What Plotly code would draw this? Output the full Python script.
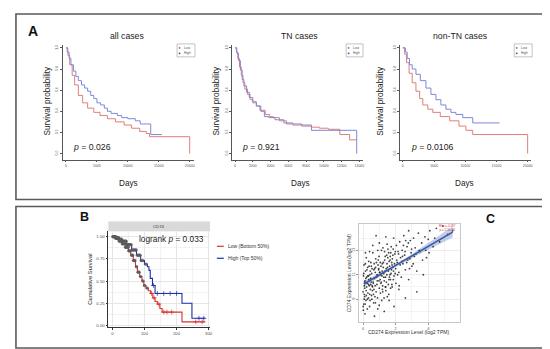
import numpy as np
import plotly.graph_objects as go

W, H = 550, 349
FONT = "Liberation Sans, Arial, sans-serif"

# ---------------- Panel A data (Kaplan-Meier, days) ----------------
all_low_t = [0, 300, 600, 1000, 1400, 2000, 2700, 3500, 4500, 5500, 6700, 8000, 9400, 10600, 11900, 13000, 13500, 20000]
all_low_s = [1.0, 0.93, 0.84, 0.74, 0.65, 0.55, 0.48, 0.43, 0.39, 0.36, 0.33, 0.30, 0.27, 0.24, 0.21, 0.19, 0.16, 0.0]
all_high_t = [0, 200, 500, 800, 1200, 1600, 2000, 2500, 3000, 3500, 4000, 4500, 5000, 5600, 6200, 6700, 7300, 8300, 9000, 10000, 11200, 12000, 13700, 15500]
all_high_s = [1.0, 0.96, 0.90, 0.84, 0.78, 0.73, 0.69, 0.65, 0.62, 0.59, 0.55, 0.52, 0.48, 0.46, 0.43, 0.40, 0.38, 0.36, 0.34, 0.33, 0.31, 0.28, 0.18, 0.18]

tn_low_t = [0, 150, 300, 500, 700, 900, 1100, 1400, 1700, 2000, 2400, 2800, 3400, 3900, 4300, 5000, 5800, 6500, 7500, 8600, 9500, 10500, 11800, 12900, 13700]
tn_low_s = [1.0, 0.96, 0.90, 0.82, 0.74, 0.67, 0.61, 0.56, 0.51, 0.48, 0.45, 0.41, 0.37, 0.35, 0.34, 0.31, 0.28, 0.27, 0.26, 0.25, 0.24, 0.23, 0.18, 0.13, 0.13]
tn_high_t = [0, 200, 400, 600, 800, 1000, 1300, 1600, 2000, 2400, 2900, 3300, 3800, 4500, 5500, 6500, 7500, 8600, 13700]
tn_high_s = [1.0, 0.95, 0.88, 0.79, 0.70, 0.64, 0.58, 0.53, 0.49, 0.45, 0.40, 0.35, 0.34, 0.32, 0.29, 0.28, 0.27, 0.22, 0.0]

ntn_low_t = [0, 300, 600, 1000, 1500, 2100, 2700, 3200, 4000, 4800, 6000, 7500, 9000, 10100, 11200, 20000]
ntn_low_s = [1.0, 0.94, 0.86, 0.76, 0.67, 0.59, 0.52, 0.46, 0.42, 0.39, 0.35, 0.31, 0.26, 0.22, 0.18, 0.0]
ntn_high_t = [0, 400, 700, 1070, 1500, 2100, 2800, 3700, 4500, 5300, 6100, 6900, 7700, 8500, 9600, 11200, 15500]
ntn_high_s = [1.0, 0.96, 0.90, 0.84, 0.80, 0.75, 0.69, 0.62, 0.56, 0.51, 0.46, 0.42, 0.39, 0.37, 0.34, 0.29, 0.29]

a_titles = ["all cases", "TN cases", "non-TN cases"]
a_pvalues = ["0.026", "0.921", "0.0106"]
a_xticks = [[0, 5000, 10000, 15000, 20000], [0, 2000, 4000, 6000, 8000, 10000, 12000, 14000], [0, 5000, 10000, 15000, 20000]]
a_yticks = [0.0, 0.2, 0.4, 0.6, 0.8, 1.0]

# ---------------- Panel B data (months) ----------------
b_low_t = [0, 10, 20, 30, 40, 50, 57, 65, 72, 78, 85, 92, 98, 105, 112, 119, 126, 133, 140, 148, 155, 217, 290]
b_low_s = [1.0, 0.98, 0.95, 0.92, 0.88, 0.84, 0.79, 0.73, 0.66, 0.60, 0.55, 0.50, 0.45, 0.42, 0.39, 0.36, 0.31, 0.27, 0.24, 0.19, 0.15, 0.04, 0.04]
b_high_t = [0, 10, 20, 30, 45, 60, 75, 88, 100, 109, 114, 118, 125, 133, 217, 248, 290]
b_high_s = [1.0, 0.99, 0.97, 0.95, 0.91, 0.85, 0.79, 0.73, 0.69, 0.66, 0.62, 0.53, 0.45, 0.36, 0.25, 0.08, 0.08]
b_low_censor = [2, 4, 6, 9, 11, 13, 16, 19, 21, 23, 26, 29, 31, 33, 36, 39, 41, 43, 46, 49, 51, 53, 56, 60, 63, 66, 68, 70, 75, 80, 83, 88, 95, 100, 108,
                122, 130, 145, 160, 170, 185, 260, 280]
b_high_censor = [2, 5, 8, 10, 12, 15, 18, 20, 22, 25, 28, 30, 32, 35, 38, 40, 42, 45, 48, 50, 52, 55, 58, 62, 66, 70, 74, 78, 82, 86, 90, 95, 104,
                 128, 140, 160, 180, 200, 270, 285]
b_xticks = [0, 100, 200, 300]
b_yticks = [0.0, 0.25, 0.5, 0.75, 1.0]

# ---------------- Panel C data (log2 TPM) ----------------
cd274_expr = [
    0.02, 0.05, 0.10, 0.00, 0.08, 0.12, 0.03, 0.15, 0.06, 0.20, 0.10, 0.25, 0.18, 0.30, 0.22, 0.28, 0.35, 0.12, 0.40, 0.33,
    0.45, 0.50, 0.42, 0.55, 0.48, 0.60, 0.52, 0.65, 0.58, 0.70, 0.75, 0.68, 0.80, 0.85, 0.78, 0.90, 0.95, 0.88, 1.00, 1.05,
    0.98, 1.10, 1.15, 1.20, 1.08, 1.25, 1.30, 1.22, 1.35, 1.40, 1.45, 1.38, 1.50, 1.55, 1.48, 1.60, 1.65, 1.58, 1.70, 1.75,
    1.68, 1.80, 1.85, 1.78, 1.90, 1.95, 1.88, 2.00, 2.05, 2.10, 2.02, 2.15, 2.20, 2.25, 2.30, 2.35, 2.40, 2.45, 2.50, 2.55,
    2.60, 2.70, 2.75, 2.80, 2.90, 2.95, 3.00, 3.10, 3.15, 3.20, 3.30, 3.40, 3.50, 3.60, 3.70, 3.80, 3.90, 4.00, 4.10, 4.30,
    4.50, 4.70, 4.90, 5.20, 5.50, 3.30, 2.60, 1.90, 1.30, 0.70, 0.90, 1.60, 2.20, 0.40, 0.15, 0.60, 1.00, 1.40, 0.80, 2.80,
    0.22, 0.35, 0.47, 0.53, 0.62, 0.71, 0.83, 0.92, 1.03, 1.12, 1.18, 1.27, 1.33, 1.42, 1.52, 1.63, 1.72, 1.83, 1.93, 2.07,
    0.08, 0.17, 0.27, 0.38, 0.44, 0.57, 0.66, 0.74, 0.86, 0.97, 1.06, 1.16, 1.24, 1.36, 1.46, 1.57, 1.66, 1.77, 1.87, 1.98,
    0.04, 0.14, 0.24, 0.32, 0.41, 0.51, 0.63, 0.73, 0.82, 0.93, 1.01, 1.13, 1.21, 1.32, 1.43, 1.53, 1.62, 1.73, 1.82, 2.12,
    2.18, 2.28, 2.38, 2.48, 2.58, 2.68, 2.78, 2.88, 2.98, 3.08, 3.25, 3.45, 3.65, 3.85, 4.05, 4.40, 2.22, 2.42, 2.62, 2.85,
    0.10, 0.20, 0.30, 0.37, 0.46, 0.56, 0.67, 0.77, 0.87, 0.96, 1.07, 1.17, 1.28, 1.37, 1.47, 1.56, 1.67, 1.76, 1.86, 1.97,
    0.01, 0.07, 0.13, 0.19, 0.26, 0.34, 0.43, 0.54, 0.64, 0.76, 0.89, 0.99, 1.09, 1.19, 1.29, 1.39, 1.49, 1.59, 1.69, 1.79,
]
cd74_expr = [
    8.1, 8.6, 9.2, 9.6, 10.1, 10.5, 10.9, 11.3, 11.8, 12.4, 9.9, 10.3, 8.9, 9.5, 10.8, 11.6, 12.1, 7.8, 8.4, 9.1,
    9.8, 10.4, 11.0, 11.5, 12.0, 12.8, 9.3, 8.7, 10.0, 10.7, 11.2, 11.9, 9.6, 10.2, 12.3, 13.0, 11.4, 10.9, 9.9, 10.6,
    12.5, 11.7, 8.9, 10.1, 11.0, 12.0, 10.5, 13.2, 11.3, 9.7, 12.6, 10.8, 11.6, 10.2, 13.5, 12.1, 11.0, 9.4, 12.8, 11.4,
    10.6, 12.3, 13.1, 11.8, 10.9, 12.7, 14.0, 11.5, 13.4, 12.0, 10.3, 12.9, 11.2, 13.7, 12.4, 10.8, 13.0, 11.9, 14.2, 12.6,
    11.4, 13.3, 12.2, 10.6, 13.8, 12.8, 11.7, 14.0, 12.5, 13.2, 11.3, 14.4, 12.9, 13.6, 11.0, 14.1, 12.4, 13.9, 14.6, 13.3,
    14.8, 13.7, 15.0, 14.3, 14.6, 9.6, 9.1, 8.4, 8.0, 7.6, 8.2, 8.9, 9.8, 12.9, 12.8, 13.4, 13.6, 14.1, 14.2, 14.6,
    10.0, 10.6, 10.2, 11.1, 10.4, 11.5, 10.8, 11.8, 11.2, 10.4, 11.9, 11.1, 12.2, 11.5, 12.4, 11.7, 11.1, 12.6, 11.9, 12.2,
    9.4, 10.7, 9.0, 10.1, 11.3, 9.7, 11.4, 10.1, 11.0, 10.5, 12.0, 10.9, 11.6, 12.5, 11.0, 12.8, 12.2, 10.2, 11.3, 12.9,
    11.1, 11.9, 11.4, 10.9, 9.4, 11.7, 10.3, 9.2, 12.0, 12.2, 11.2, 13.0, 9.6, 12.9, 10.4, 13.1, 10.8, 13.3, 11.6, 11.0,
    12.7, 11.8, 12.1, 13.4, 12.9, 12.0, 13.6, 12.3, 13.1, 11.9, 12.7, 13.0, 12.2, 13.0, 12.8, 14.0, 10.1, 12.5, 13.8, 11.5,
    10.4, 9.3, 10.9, 11.7, 10.7, 10.1, 9.8, 11.6, 10.5, 11.5, 9.5, 11.3, 10.8, 10.0, 11.9, 11.3, 12.5, 12.0, 10.6, 11.1,
    8.4, 9.0, 8.6, 9.7, 8.2, 10.2, 8.9, 9.0, 9.4, 8.7, 9.1, 8.5, 10.3, 9.8, 9.1, 10.0, 9.2, 10.6, 9.9, 10.0,
]
fit_intercept = 10.2
fit_slope = 0.78
fit_x = [0.05, 1.0, 2.0, 3.0, 4.0, 5.0, 5.5]
fit_halfwidth = [0.22, 0.13, 0.10, 0.16, 0.26, 0.38, 0.45]
c_xticks = [0, 2, 4]
c_yticks = [9, 11, 13]
c_stat_text = "Rho = 0.587<br>p = 2.2e-98"

# ---------------- helpers ----------------
def px(p):
    return p / W

def py(p):
    return 1 - p / H

def xdom(a, b):
    return [a / W, b / W]

def ydom(top, bottom):
    return [1 - bottom / H, 1 - top / H]

fig = go.Figure()
annotations = []
shapes = []

def ann(text, x, y, size, color="#1a1a1a", xanchor="center", yanchor="middle", angle=0, bold=False):
    if bold:
        text = "<b>" + text + "</b>"
    annotations.append(dict(text=text, x=px(x), y=py(y), xref="paper", yref="paper",
                            showarrow=False, xanchor=xanchor, yanchor=yanchor, textangle=angle,
                            font=dict(size=size, color=color, family=FONT)))

def rect(x0, y0, x1, y1, color="#666", width=1.5, fill="rgba(0,0,0,0)"):
    shapes.append(dict(type="rect", xref="paper", yref="paper", x0=px(x0), x1=px(x1), y0=py(y1), y1=py(y0),
                       line=dict(color=color, width=width), fillcolor=fill, layer="below"))

def seg(x0, y0, x1, y1, color, width=1):
    shapes.append(dict(type="line", xref="paper", yref="paper", x0=px(x0), x1=px(x1), y0=py(y0), y1=py(y1),
                       line=dict(color=color, width=width)))

def dot(x, y, color, r=0.9):
    shapes.append(dict(type="circle", xref="paper", yref="paper", x0=px(x - r), x1=px(x + r), y0=py(y + r), y1=py(y - r),
                       line=dict(width=0), fillcolor=color))

# Panel boxes
rect(8, 6, 541, 192, color="#5a5a5a", width=1.6)
rect(8, 199, 541, 341, color="#5a5a5a", width=1.6)

RED_A = "#e07f7a"
BLUE_A = "#7f88d6"

# ---------------- Panel A ----------------
a_data = [
    (all_low_t, all_low_s, all_high_t, all_high_s),
    (tn_low_t, tn_low_s, tn_high_t, tn_high_s),
    (ntn_low_t, ntn_low_s, ntn_high_t, ntn_high_s),
]
a_geom = [(55, 187, 58.3, 182.7, 20000), (225, 357, 228.3, 353.3, 14000), (394, 526, 397, 522.5, 20000)]
a_title_x = [120, 293, 455]
a_ylab_x = [40, 210, 375]
a_p_x = [63, 233, 403]
a_leg = [(170, 188), (340, 357), (509, 527)]
y_top, y_bot, y1px, y0px = 37, 152, 40, 146
yr = [-(y_bot - y0px) / (y0px - y1px), 1 + (y1px - y_top) / (y0px - y1px)]

layout_axes = {}
for i, (lt, ls, ht, hs) in enumerate(a_data):
    n = "" if i == 0 else str(i + 1)
    dl, dr, x0p, xmp, xmv = a_geom[i]
    scale = xmv / (xmp - x0p)
    xr = [-(x0p - dl) * scale, xmv + (dr - xmp) * scale]
    fig.add_trace(go.Scatter(x=lt, y=ls, mode="lines", line=dict(color=RED_A, width=1, shape="hv"),
                             xaxis="x" + n, yaxis="y" + n, showlegend=False, hoverinfo="skip"))
    fig.add_trace(go.Scatter(x=ht, y=hs, mode="lines", line=dict(color=BLUE_A, width=1, shape="hv"),
                             xaxis="x" + n, yaxis="y" + n, showlegend=False, hoverinfo="skip"))
    common = dict(showgrid=False, zeroline=False, showline=True, linecolor="#555", linewidth=0.7,
                  ticks="outside", ticklen=2, tickwidth=0.6, tickcolor="#555",
                  tickfont=dict(size=3.5, color="#555", family=FONT))
    layout_axes["xaxis" + n] = dict(domain=xdom(dl, dr), range=xr, anchor="y" + n, tickvals=a_xticks[i],
                                    ticktext=[str(v) for v in a_xticks[i]], **common)
    layout_axes["yaxis" + n] = dict(domain=ydom(y_top, y_bot), range=yr, anchor="x" + n, tickvals=a_yticks,
                                    ticktext=["%.1f" % v for v in a_yticks], tickangle=-90, **common)
    ann(a_titles[i], a_title_x[i], 28, 8.7)
    ann("Survival probability", a_ylab_x[i], 93, 8.2, angle=-90)
    ann("Days", a_title_x[i] + 1 if i != 2 else 459, 176, 8.2)
    ann("<i>p</i> = " + a_pvalues[i], a_p_x[i], 139, 8.7, xanchor="left")
    lx0, lx1 = a_leg[i]
    rect(lx0, 36, lx1, 49, color="#888", width=0.5)
    dot(lx0 + 2.5, 40, "#d9534f")
    dot(lx0 + 2.5, 45.5, "#2f3fbf")
    ann("Low", lx0 + 4.5, 40, 3.3, color="#555", xanchor="left")
    ann("High", lx0 + 4.5, 45.5, 3.3, color="#555", xanchor="left")

ann("A", 25, 23, 14, color="#111", bold=True)

# ---------------- Panel B ----------------
RED_B = "#d7322f"
BLUE_B = "#1f2fb0"

def step_eval(t, s, q):
    t = np.asarray(t, dtype=float)
    s = np.asarray(s, dtype=float)
    idx = np.searchsorted(t, np.asarray(q, dtype=float), side="right") - 1
    return s[idx]

fig.add_trace(go.Scatter(x=b_low_t, y=b_low_s, mode="lines", line=dict(color=RED_B, width=1.1, shape="hv"),
                         xaxis="x4", yaxis="y4", showlegend=False, hoverinfo="skip"))
fig.add_trace(go.Scatter(x=b_high_t, y=b_high_s, mode="lines", line=dict(color=BLUE_B, width=1.1, shape="hv"),
                         xaxis="x4", yaxis="y4", showlegend=False, hoverinfo="skip"))
for ct, t, s, col in [(b_low_censor, b_low_t, b_low_s, RED_B), (b_high_censor, b_high_t, b_high_s, BLUE_B)]:
    ct = np.asarray(ct, dtype=float)
    cs = step_eval(t, s, ct)
    early = ct <= 110
    fig.add_trace(go.Scatter(x=ct[early], y=cs[early], mode="markers",
                             marker=dict(symbol="circle", size=3.4, color="rgba(90,90,90,0.85)", line=dict(width=0)),
                             xaxis="x4", yaxis="y4", showlegend=False, hoverinfo="skip"))
    fig.add_trace(go.Scatter(x=ct[~early], y=cs[~early], mode="markers",
                             marker=dict(symbol="cross-thin", size=3.5, line=dict(width=0.7, color=col)),
                             xaxis="x4", yaxis="y4", showlegend=False, hoverinfo="skip"))

bx_l, bx_r, b0, b300 = 101, 203, 105, 201.7
bsc = 300 / (b300 - b0)
by_t, by_b, b1px, b0px = 224, 320, 229.3, 318.3
bysc = 1 / (b0px - b1px)
b_common = dict(showgrid=True, gridcolor="#e6e6e6", gridwidth=0.5, zeroline=False, showline=True,
                linecolor="#333", linewidth=0.7, ticks="outside", ticklen=2, tickwidth=0.6, tickcolor="#333",
                tickfont=dict(size=4.3, color="#4d4d4d", family=FONT))
layout_axes["xaxis4"] = dict(domain=xdom(bx_l, bx_r), range=[-(b0 - bx_l) * bsc, 300 + (bx_r - b300) * bsc],
                             anchor="y4", tickvals=b_xticks, ticktext=[str(v) for v in b_xticks],
                             minor=dict(tickvals=[50, 150, 250], showgrid=True, gridcolor="#f2f2f2", ticks=""),
                             **b_common)
layout_axes["yaxis4"] = dict(domain=ydom(by_t, by_b), range=[-(by_b - b0px) * bysc, 1 + (b1px - by_t) * bysc],
                             anchor="x4", tickvals=b_yticks, ticktext=["%.2f" % v for v in b_yticks],
                             minor=dict(tickvals=[0.125, 0.375, 0.625, 0.875], showgrid=True, gridcolor="#f2f2f2", ticks=""),
                             **b_common)
rect(101, 214, 203, 224, color="#d9d9d9", width=0.1, fill="#d9d9d9")
ann("CD74", 152, 219, 4.3, color="#333")
ann("logrank <i>p</i> = 0.033", 199, 232, 8.3, xanchor="right")
ann("Cumulative Survival", 83, 272, 5.8, angle=-90)
ann("B", 77, 210, 12.5, color="#111", bold=True)
seg(210, 239, 217, 239, RED_B, 1.2)
seg(210, 251, 217, 251, BLUE_B, 1.2)
ann("Low (Bottom 50%)", 219, 239, 5, color="#333", xanchor="left")
ann("High (Top 50%)", 219, 251, 5, color="#333", xanchor="left")

# ---------------- Panel C ----------------
fx = np.asarray(fit_x)
fy = fit_intercept + fit_slope * fx
hw = np.asarray(fit_halfwidth)
fig.add_trace(go.Scatter(x=fx, y=fy - hw, mode="lines", line=dict(width=0, color="rgba(0,0,0,0)"),
                         xaxis="x5", yaxis="y5", showlegend=False, hoverinfo="skip"))
fig.add_trace(go.Scatter(x=fx, y=fy + hw, mode="lines", line=dict(width=0, color="rgba(0,0,0,0)"),
                         fill="tonexty", fillcolor="rgba(140,165,215,0.55)",
                         xaxis="x5", yaxis="y5", showlegend=False, hoverinfo="skip"))
fig.add_trace(go.Scatter(x=cd274_expr, y=cd74_expr, mode="markers",
                         marker=dict(size=1.8, color="rgba(20,20,20,0.8)", line=dict(width=0)),
                         xaxis="x5", yaxis="y5", showlegend=False, hoverinfo="skip"))
fig.add_trace(go.Scatter(x=fx, y=fy, mode="lines", line=dict(color="#3a5aa6", width=1.6),
                         xaxis="x5", yaxis="y5", showlegend=False, hoverinfo="skip"))

cx_l, cx_r, c0, c4 = 353, 454, 357, 422.5
csc = 4 / (c4 - c0)
cy_t, cy_b, c13, c9 = 217, 315, 243, 292
cysc = 4 / (c9 - c13)
c_common = dict(showgrid=True, gridcolor="#ececec", gridwidth=0.5, zeroline=False, showline=True, mirror=True,
                linecolor="#c8c8c8", linewidth=0.7, ticks="outside", ticklen=2, tickwidth=0.5, tickcolor="#999",
                tickfont=dict(size=3.8, color="#555", family=FONT))
layout_axes["xaxis5"] = dict(domain=xdom(cx_l, cx_r), range=[-(c0 - cx_l) * csc, 4 + (cx_r - c4) * csc],
                             anchor="y5", tickvals=c_xticks,
                             minor=dict(tickvals=[1, 3, 5], showgrid=True, gridcolor="#f4f4f4", ticks=""),
                             **c_common)
layout_axes["yaxis5"] = dict(domain=ydom(cy_t, cy_b), range=[9 - (cy_b - c9) * cysc, 13 + (c13 - cy_t) * cysc],
                             anchor="x5", tickvals=c_yticks, tickangle=-90,
                             minor=dict(tickvals=[8, 10, 12, 14], showgrid=True, gridcolor="#f4f4f4", ticks=""),
                             **c_common)
ann(c_stat_text, 452, 221, 3, color="#d43a3a", xanchor="right")
ann("CD274 Expression Level (log2 TPM)", 403, 325, 5, color="#333")
ann("CD74 Expression Level (log2 TPM)", 343, 266, 5, color="#333", angle=-90)
ann("C", 485, 212, 12.5, color="#111", bold=True)

fig.update_layout(width=W, height=H, margin=dict(l=0, r=0, t=0, b=0), paper_bgcolor="white",
                  plot_bgcolor="white", annotations=annotations, shapes=shapes, showlegend=False,
                  font=dict(family=FONT), **layout_axes)
fig.write_html("out.html")
